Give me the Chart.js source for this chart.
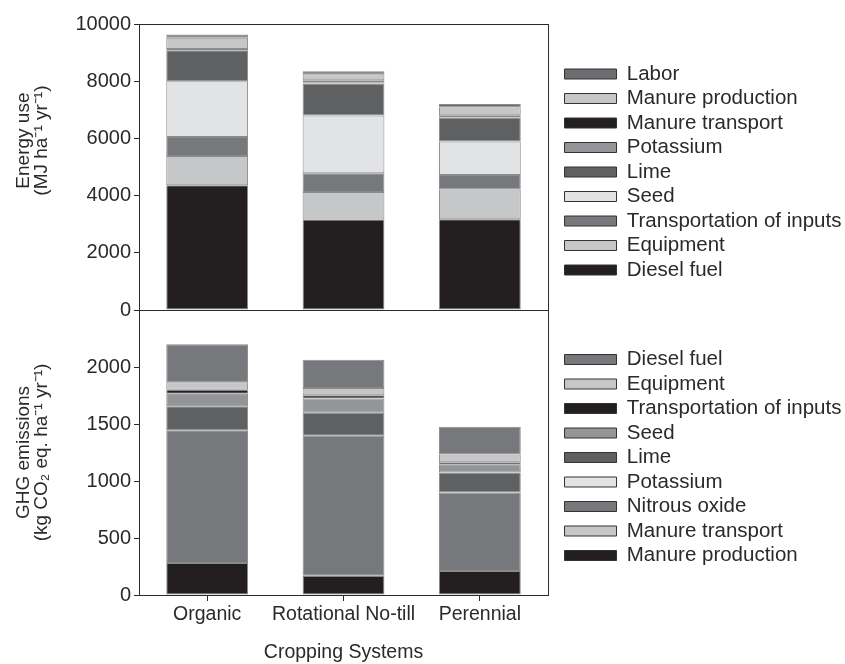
<!DOCTYPE html>
<html>
<head>
  <meta http-equiv="Content-Type" content="text/html" charset="UTF-8" />
  <title>Energy use and GHG emissions by cropping system</title>
  <script src="https://cdn.jsdelivr.net/npm/chart.js"></script>
  <style>
    body {
      margin: 0;
      background: #fff;
    }

    #wrap {
      position: relative;
      width: 845px;
      height: 664px;
    }

    #wrap canvas {
      position: absolute;
      left: 0;
      top: 0;
    }
  </style>
</head>
<body>
  <div id="wrap">
    <canvas id="energyChart" width="845" height="664"></canvas>
    <canvas id="ghgChart" width="845" height="664"></canvas>
  </div>

  <script>
    const systems = ['Organic', 'Rotational No-till', 'Perennial'];

    // energy use, MJ/ha/yr (stack order bottom -> top)
    const energyDiesel = [4360, 3160, 3170];
    const energyEquipment = [1025, 965, 1040];
    const energyTransport = [665, 655, 510];
    const energySeed = [1950, 2020, 1170];
    const energyLime = [1085, 1120, 840];
    const energyPotassium = [0, 40, 0];
    const energyManureTransport = [45, 70, 80];
    const energyManureProduction = [385, 210, 270];
    const energyLabor = [120, 105, 125];

    // GHG emissions, kg CO2 eq./ha/yr (stack order bottom -> top)
    const ghgManureProduction = [280, 168, 210];
    const ghgManureTransport = [0, 0, 0];
    const ghgNitrousOxide = [1165, 1230, 690];
    const ghgPotassium = [0, 0, 0];
    const ghgLime = [210, 200, 175];
    const ghgSeed = [110, 125, 67];
    const ghgTransport = [35, 30, 23];
    const ghgEquipment = [67, 62, 67];
    const ghgDiesel = [333, 248, 243];

    const BLACK = '#231f20';
    const DARK = '#5f6062';
    const DARK2 = '#6d6e71';
    const MID = '#77787b';
    const MIDLIGHT = '#939598';
    const LIGHT = '#c6c7c9';
    const PALE = '#e2e3e5';

    const FONT = "'Liberation Sans', Arial, sans-serif";
    const INK = '#2a2a2a';
    const NB = '\u00A0';

    function makeSet(label, data, color) {
      return {
        label: label,
        data: data,
        backgroundColor: color,
        borderColor: '#8a8a8a',
        borderWidth: 1,
        borderSkipped: false,
        barPercentage: 0.6,
        categoryPercentage: 1.0
      };
    }

    // box around the plot area
    const frame = {
      id: 'frame',
      afterDatasetsDraw(chart) {
        const ctx = chart.ctx;
        const a = chart.chartArea;
        ctx.save();
        ctx.strokeStyle = INK;
        ctx.lineWidth = 1;
        ctx.strokeRect(a.left + 0.5, a.top + 0.5, a.right - a.left, a.bottom - a.top);
        ctx.restore();
      }
    };

    // move the legend right/down a bit and let it run to the page edge (it clips to its own box)
    const legendNudge = {
      id: 'legendNudge',
      afterLayout(chart) {
        const lg = chart.legend;
        lg.left += 12.5;
        lg.right = chart.width;
        lg.width = lg.right - lg.left;
        lg.top += 5;
        lg.bottom += 5;
      }
    };

    function legendOptions() {
      return {
        position: 'right',
        fullSize: false,
        reverse: true,
        labels: {
          boxWidth: 52,
          boxHeight: 10,
          padding: 4,
          color: INK,
          font: { family: FONT, size: 20.5 },
          generateLabels(chart) {
            const items = Chart.defaults.plugins.legend.labels.generateLabels(chart);
            items.forEach(it => {
              it.strokeStyle = '#333';
              it.lineWidth = 1;
            });
            return items;
          }
        }
      };
    }

    function yAxis(max, step, title, hideTop) {
      return {
        stacked: true,
        min: 0,
        max: max,
        ticks: {
          stepSize: step,
          padding: 3,
          color: INK,
          font: { family: FONT, size: 20 },
          callback: v => (hideTop && v === max) ? '' : v
        },
        grid: { drawOnChartArea: false, tickLength: 5, color: INK },
        border: { color: INK },
        title: {
          display: true,
          text: title,
          color: INK,
          font: { family: FONT, size: 19, lineHeight: 0.95 },
          padding: { top: 15, bottom: 0 }
        },
        afterFit(scale) {
          scale.width = 139;
        }
      };
    }

    // right padding chosen so the plot frame ends at x = 548 (legend is capped at a quarter of the width)
    const PAD_RIGHT = 114.3;

    // leading blanks lift the (rotated) energy title above the middle of its axis, as in the figure
    const lift = NB.repeat(10);

    new Chart(document.getElementById('energyChart'), {
      type: 'bar',
      data: {
        labels: systems,
        datasets: [
          makeSet('Diesel fuel', energyDiesel, BLACK),
          makeSet('Equipment', energyEquipment, LIGHT),
          makeSet('Transportation of inputs', energyTransport, MID),
          makeSet('Seed', energySeed, PALE),
          makeSet('Lime', energyLime, DARK),
          makeSet('Potassium', energyPotassium, MIDLIGHT),
          makeSet('Manure transport', energyManureTransport, BLACK),
          makeSet('Manure production', energyManureProduction, LIGHT),
          makeSet('Labor', energyLabor, DARK2)
        ]
      },
      options: {
        responsive: false,
        animation: false,
        layout: { padding: { left: 0, top: 24, right: PAD_RIGHT, bottom: 354 } },
        plugins: {
          legend: legendOptions(),
          tooltip: { enabled: false }
        },
        scales: {
          x: { display: false, stacked: true },
          y: yAxis(10000, 2000, [lift + 'Energy use', lift + '(MJ ha\u207B\u00B9 yr\u207B\u00B9)'], false)
        }
      },
      plugins: [frame, legendNudge]
    });

    new Chart(document.getElementById('ghgChart'), {
      type: 'bar',
      data: {
        labels: systems,
        datasets: [
          makeSet('Manure production', ghgManureProduction, BLACK),
          makeSet('Manure transport', ghgManureTransport, LIGHT),
          makeSet('Nitrous oxide', ghgNitrousOxide, MID),
          makeSet('Potassium', ghgPotassium, PALE),
          makeSet('Lime', ghgLime, DARK),
          makeSet('Seed', ghgSeed, MIDLIGHT),
          makeSet('Transportation of inputs', ghgTransport, BLACK),
          makeSet('Equipment', ghgEquipment, LIGHT),
          makeSet('Diesel fuel', ghgDiesel, MID)
        ]
      },
      options: {
        responsive: false,
        animation: false,
        layout: { padding: { left: 0, top: 310, right: PAD_RIGHT, bottom: 0 } },
        plugins: {
          legend: legendOptions(),
          tooltip: { enabled: false }
        },
        scales: {
          x: {
            stacked: true,
            ticks: {
              padding: 2,
              maxRotation: 0,
              minRotation: 0,
              autoSkip: false,
              color: INK,
              font: { family: FONT, size: 19.5 }
            },
            grid: { drawOnChartArea: false, offset: false, tickLength: 6, color: INK },
            border: { color: INK },
            title: {
              display: true,
              text: 'Cropping Systems',
              color: INK,
              font: { family: FONT, size: 19.5, lineHeight: 1 },
              padding: { top: 0, bottom: 2 }
            },
            afterFit(scale) {
              scale.height = 69;
            }
          },
          y: yAxis(2500, 500, ['GHG emissions', '(kg CO\u2082 eq. ha\u207B\u00B9 yr\u207B\u00B9)'], true)
        }
      },
      plugins: [frame, legendNudge]
    });
  </script>
</body>
</html>
